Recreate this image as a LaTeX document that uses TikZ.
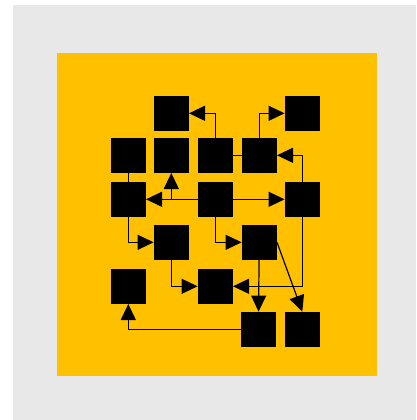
\documentclass[tikz,border=0pt]{standalone}
\usepackage{tikz}
\usetikzlibrary{arrows.meta}
\tikzstyle{box style}=[fill=black, draw=none, shape=rectangle, inner sep=0mm,
        minimum size=35pt]
\tikzstyle{edge style}=[-, draw=black, line width=1.2pt]
\tikzstyle{arrow edge style}=[-{Triangle[length=16pt, width=15pt]}, draw=black,
        line width=1.2pt]

\begin{document}
\begin{tikzpicture}[x=1pt, y=-1pt]
            \useasboundingbox (0, 0) rectangle (416, 420);
            \fill [fill={rgb,255: red,232; green,232; blue,232}] (13, 5) rectangle (416, 420);
            \fill [fill={rgb,255: red,255; green,192; blue,0}] (57, 53) rectangle (377, 376);

            \node [style=box style] (1) at (171.3, 113.3) {};
            \node [style=box style] (2) at (302.3, 113.3) {};
            \node [style=box style] (3) at (128.3, 155.3) {};
            \node [style=box style] (4) at (171.3, 155.3) {};
            \node [style=box style] (5) at (215.3, 155.3) {};
            \node [style=box style] (6) at (259.3, 155.3) {};
            \node [style=box style] (7) at (128.3, 199.3) {};
            \node [style=box style] (8) at (215.3, 199.3) {};
            \node [style=box style] (9) at (302.3, 199.3) {};
            \node [style=box style] (10) at (171.3, 242.3) {};
            \node [style=box style] (11) at (259.3, 242.3) {};
            \node [style=box style] (12) at (128.3, 286.3) {};
            \node [style=box style] (13) at (215.3, 286.3) {};
            \node [style=box style] (14) at (258.3, 329.3) {};
            \node [style=box style] (15) at (302.3, 329.3) {};

            \draw [style=edge style] (5) to (6);
            \draw [style=edge style] (3) to (7);
            \draw [style=arrow edge style] (5) |- (1);
            \draw [style=arrow edge style] (6) |- (2);
            \draw [style=arrow edge style] (8) to (7);
            \draw [style=arrow edge style] (8) -| (4);
            \draw [style=arrow edge style] (8) to (9);
            \draw [style=arrow edge style] (9) |- (6);
            \draw [style=arrow edge style] (7) |- (10);
            \draw [style=arrow edge style] (8) |- (11);
            \draw [style=arrow edge style] (10) |- (13);
            \draw [style=arrow edge style] (9) |- (13);
            \draw [style=arrow edge style] (11) to (14);
            \draw [style=arrow edge style] (11.east) to (15.north);
            \draw [style=arrow edge style] (14) -| (12);
    \end{tikzpicture}
\end{document}
